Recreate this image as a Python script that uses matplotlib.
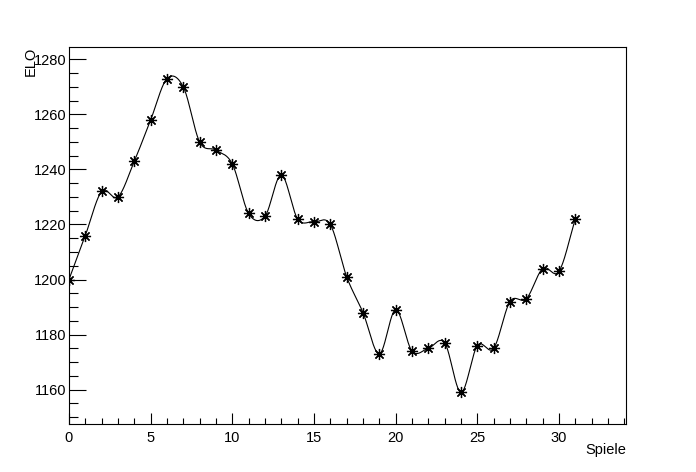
import matplotlib
matplotlib.use("Agg")
import matplotlib.pyplot as plt
from matplotlib.ticker import MultipleLocator
import numpy as np

plt.rcParams['font.family'] = ['Liberation Sans', 'DejaVu Sans']

# ELO after each game
spiele = list(range(32))
elo = [1200, 1216, 1232, 1230, 1243, 1258, 1273, 1270, 1250, 1247,
       1242, 1224, 1223, 1238, 1222, 1221, 1220, 1201, 1188, 1173,
       1189, 1174, 1175, 1177, 1159, 1176, 1175, 1192, 1193, 1204,
       1203, 1222]


def smooth_curve(x, y, n=60):
    # Catmull-Rom style cubic through the points (like ROOT's "C" option)
    x = np.asarray(x, float)
    y = np.asarray(y, float)
    k = len(x)
    d = np.zeros(k)
    d[1:-1] = (y[2:] - y[:-2]) / (x[2:] - x[:-2])
    d[0] = (y[1] - y[0]) / (x[1] - x[0])
    d[-1] = (y[-1] - y[-2]) / (x[-1] - x[-2])
    xs_all, ys_all = [], []
    for i in range(k - 1):
        h = x[i + 1] - x[i]
        t = np.linspace(0, 1, n)
        h00 = 2 * t ** 3 - 3 * t ** 2 + 1
        h10 = t ** 3 - 2 * t ** 2 + t
        h01 = -2 * t ** 3 + 3 * t ** 2
        h11 = t ** 3 - t ** 2
        xs_all.append(x[i] + t * h)
        ys_all.append(h00 * y[i] + h10 * h * d[i] + h01 * y[i + 1] + h11 * h * d[i + 1])
    return np.concatenate(xs_all), np.concatenate(ys_all)


fig = plt.figure(figsize=(6.96, 4.72), dpi=100)
ax = fig.add_axes([0.0991, 0.1023, 0.8003, 0.7975])

xs, ys = smooth_curve(spiele, elo)
ax.plot(xs, ys, color='black', lw=0.8)
ax.plot(spiele, elo, ls='none', marker=(8, 2, 0), ms=8, mew=0.9, color='black')

xmin, xmax = min(spiele), max(spiele)
ymin, ymax = min(elo), max(elo)
ax.set_xlim(0, xmax + 0.1 * (xmax - xmin))
ax.set_ylim(ymin - 0.1 * (ymax - ymin), ymax + 0.1 * (ymax - ymin))

ax.xaxis.set_major_locator(MultipleLocator(5))
ax.xaxis.set_minor_locator(MultipleLocator(1))
ax.yaxis.set_major_locator(MultipleLocator(20))
ax.yaxis.set_minor_locator(MultipleLocator(5))

ax.tick_params(axis='x', which='major', direction='in', length=8, width=0.8,
               labelsize=10.5, pad=5, top=False)
ax.tick_params(axis='x', which='minor', direction='in', length=4, width=0.8, top=False)
ax.tick_params(axis='y', which='major', direction='in', length=12.5, width=0.8,
               labelsize=10.5, pad=2, right=False)
ax.tick_params(axis='y', which='minor', direction='in', length=6.2, width=0.8, right=False)
for s in ax.spines.values():
    s.set_linewidth(0.8)

fig.text(31 / 696, 1 - 47 / 472, 'ELO', rotation=90, ha='center', va='top', fontsize=10.5)
fig.text(626 / 696, 1 - 450 / 472, 'Spiele', ha='right', va='center', fontsize=10.5)

fig.savefig('out.png', dpi=100)
